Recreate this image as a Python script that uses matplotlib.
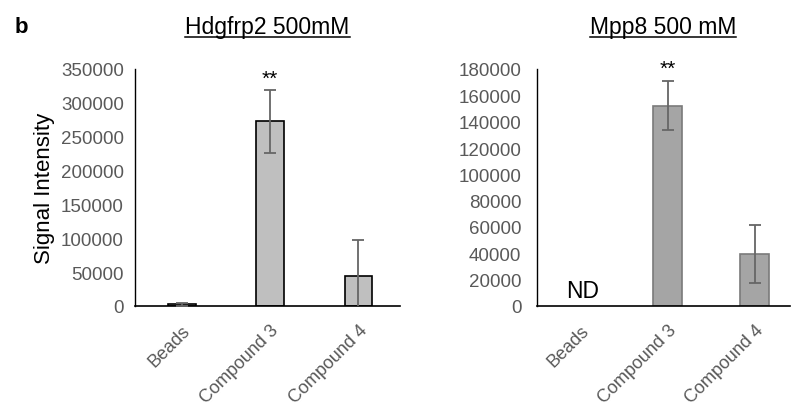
import matplotlib.pyplot as plt

plt.rcParams['font.family'] = ['Liberation Sans', 'DejaVu Sans']

categories = ["Beads", "Compound 3", "Compound 4"]

# Hdgfrp2 500mM
hdg_values = [2500, 273000, 44800]
hdg_errors = [1800, 46500, 53000]

# Mpp8 500 mM (Beads not detected)
mpp_values = [0, 152000, 39300]
mpp_errors = [0, 18700, 22000]

tick_gray = "#595959"
err_gray = "#666666"

fig = plt.figure(figsize=(7.95, 4.06), dpi=100)
ax1 = fig.add_axes([135 / 795, 99 / 406, 265 / 795, 237 / 406])
ax2 = fig.add_axes([536.7 / 795, 99 / 406, 253 / 795, 237 / 406])

x = list(range(len(categories)))

ax1.bar(x, hdg_values, width=0.31, color="#bfbfbf", edgecolor="black", linewidth=1.2, zorder=2)
ax1.errorbar(x, hdg_values, yerr=hdg_errors, fmt="none", ecolor=err_gray,
             elinewidth=1.3, capsize=4, capthick=1.3, zorder=3)
ax1.set_ylim(0, 350000)
ax1.set_yticks(range(0, 350001, 50000))
ax1.set_xlim(-0.53, 2.47)
ax1.set_title("Hdgfrp2 500mM", fontsize=16.5, pad=0, y=1.15)
ax1.set_ylabel("Signal Intensity", fontsize=16, labelpad=4)
ax1.text(1, 322000, "**", ha="center", va="bottom", fontsize=15)

ax2.bar(x[1:], mpp_values[1:], width=0.33, color="#a5a5a5", edgecolor="#7a7a7a", linewidth=1.2, zorder=2)
ax2.errorbar(x[1:], mpp_values[1:], yerr=mpp_errors[1:], fmt="none", ecolor=err_gray,
             elinewidth=1.3, capsize=4, capthick=1.3, zorder=3)
ax2.set_ylim(0, 180000)
ax2.set_yticks(range(0, 180001, 20000))
ax2.set_xlim(-0.5, 2.4)
ax2.set_title("Mpp8 500 mM", fontsize=16.5, pad=0, y=1.15)
ax2.text(0.03, 3000, "ND", ha="center", va="bottom", fontsize=16.5)
ax2.text(1, 173000, "**", ha="center", va="bottom", fontsize=15)

for ax, ypad in ((ax1, 8), (ax2, 11)):
    ax.set_xticks(x)
    ax.set_xticklabels(categories, rotation=45, ha="right", rotation_mode="anchor",
                       fontsize=13, color=tick_gray)
    ax.tick_params(axis="x", length=0, pad=11)
    ax.tick_params(axis="y", length=0, labelsize=13.5, labelcolor=tick_gray, pad=ypad)
    ax.spines["top"].set_visible(False)
    ax.spines["right"].set_visible(False)
    ax.spines["left"].set_linewidth(1)
    ax.spines["bottom"].set_linewidth(1.2)

# underline titles
fig.canvas.draw()
for ax in (ax1, ax2):
    bb = ax.title.get_window_extent().transformed(fig.transFigure.inverted())
    fig.add_artist(plt.Line2D([bb.x0, bb.x1], [bb.y0 + 0.004, bb.y0 + 0.004], color="black", linewidth=1.1))

fig.text(15 / 795, 1 - 33 / 406, "b", fontsize=16, fontweight="bold")

fig.savefig("out.png", dpi=100)
